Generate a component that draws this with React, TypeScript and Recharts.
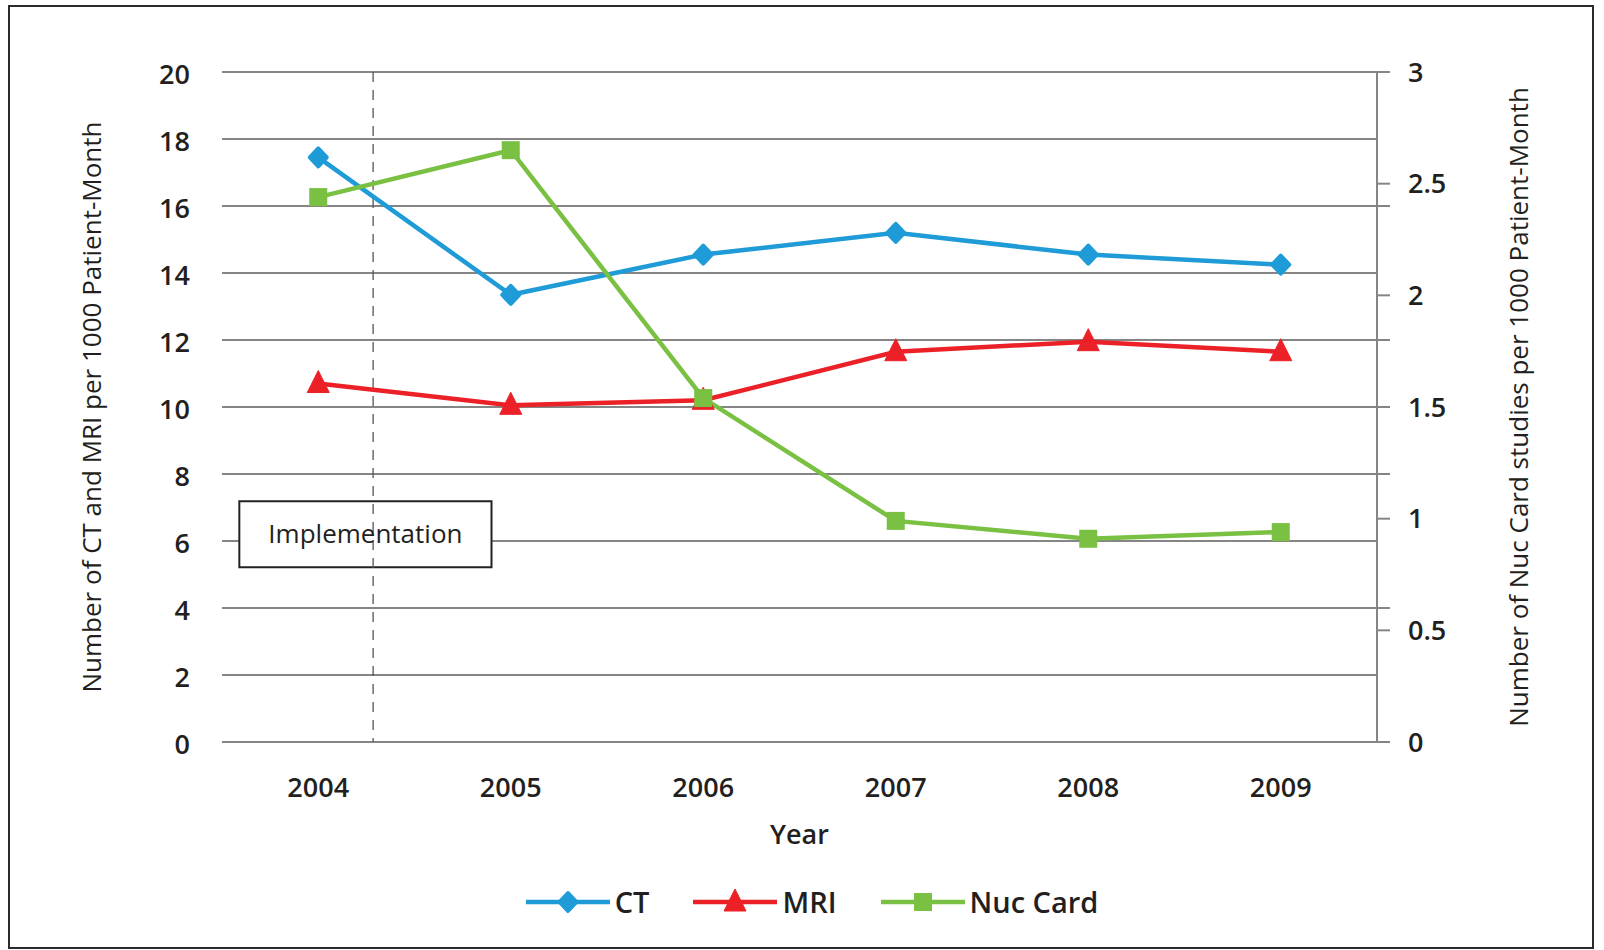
import React from 'react';
import {
  LineChart,
  Line,
  XAxis,
  YAxis,
  CartesianGrid,
  ReferenceArea,
  Legend,
} from 'recharts';

// ---------- data ----------
const years = ['2004', '2005', '2006', '2007', '2008', '2009'];
const ctValues = [17.45, 13.35, 14.55, 15.2, 14.55, 14.25];
const mriValues = [10.7, 10.05, 10.2, 11.65, 11.95, 11.65];
const nucCardValues = [2.44, 2.65, 1.54, 0.99, 0.91, 0.94];

const leftTicks = [0, 2, 4, 6, 8, 10, 12, 14, 16, 18, 20];
const rightTicks = [0, 0.5, 0.6, 1, 1.2, 1.5, 1.8, 2, 2.4, 2.5, 3];
const yearIndexTicks = [0, 1, 2, 3, 4, 5];

const seriesNames = { ct: 'CT', mri: 'MRI', nuc: 'Nuc Card' };
const implementationAt = 0.285; // between 2004 (0) and 2005 (1)
const implementationBoxX = [-0.41, 0.9];
const implementationBoxY = [5.22, 7.19];

const data = years.map((year, i) => ({
  idx: i,
  year,
  ct: ctValues[i],
  mri: mriValues[i],
  nuc: nucCardValues[i],
}));

// ---------- styles ----------
const FONT = '"Open Sans", "Noto Sans", sans-serif';
const TEXT = '#231f20';
const GRID = '#858585';
const COLORS = { ct: '#1f9bd7', mri: '#ec2027', nuc: '#79c043' };

const Diamond = ({ cx, cy, color }: any) => (
  <polygon
    points={`${cx},${cy - 9} ${cx + 8.5},${cy} ${cx},${cy + 9} ${cx - 8.5},${cy}`}
    fill={color}
    stroke={color}
    strokeWidth={4}
    strokeLinejoin="round"
  />
);
const Triangle = ({ cx, cy, color }: any) => (
  <polygon
    points={`${cx},${cy - 13} ${cx + 11},${cy + 9} ${cx - 11},${cy + 9}`}
    fill={color}
    stroke={color}
    strokeWidth={1}
  />
);
const Square = ({ cx, cy, color }: any) => (
  <rect x={cx - 9} y={cy - 9} width={18} height={18} fill={color} />
);

const markerFor: Record<string, any> = { ct: Diamond, mri: Triangle, nuc: Square };

const makeDot = (key: string) => (props: any) => {
  const M = markerFor[key];
  if (props.cx == null || props.cy == null) return <g key={`${key}-${props.index}`} />;
  return <M key={`${key}-${props.index}`} cx={props.cx} cy={props.cy} color={COLORS[key as keyof typeof COLORS]} />;
};

// dashed marker drawn from the area that the library computes for it
const DashedMarker = (props: any) => {
  const { x, y, height } = props;
  if (x == null || y == null) return <g />;
  return (
    <line
      x1={x}
      y1={y}
      x2={x}
      y2={y + height}
      stroke="#555"
      strokeWidth={1.3}
      strokeDasharray="10 8"
    />
  );
};

const renderLegend = (props: any) => {
  const { payload = [] } = props;
  return (
    <div
      style={{
        display: 'flex',
        justifyContent: 'center',
        alignItems: 'center',
        paddingLeft: 20,
        fontFamily: FONT,
        fontSize: 29,
        fontWeight: 600,
        color: TEXT,
        lineHeight: '38px',
      }}
    >
      {payload.map((entry: any, i: number) => {
        const key = entry.dataKey as string;
        const M = markerFor[key];
        return (
          <div
            key={key}
            style={{ display: 'flex', alignItems: 'center', marginRight: i < payload.length - 1 ? 44 : 0 }}
          >
            <svg width={84} height={30}>
              <line x1={0} y1={15} x2={84} y2={15} stroke={entry.color} strokeWidth={4.5} />
              <M cx={42} cy={15} color={entry.color} />
            </svg>
            <span style={{ marginLeft: 5 }}>{entry.value}</span>
          </div>
        );
      })}
    </div>
  );
};

export default function App() {
  return (
    <div style={{ position: 'relative', width: 1604, height: 950, background: '#fff' }}>
      <style>{'body{margin:0;background:#fff;}'}</style>
      <div
        style={{
          position: 'absolute',
          left: 8,
          top: 5,
          width: 1586,
          height: 944,
          border: '2.5px solid #2b2b2b',
          boxSizing: 'border-box',
          pointerEvents: 'none',
        }}
      />
      <LineChart
        width={1604}
        height={950}
        data={data}
        margin={{ top: 72, right: 0, bottom: 98, left: 0 }}
        style={{ position: 'absolute', left: 0, top: 0 }}
      >
        <CartesianGrid yAxisId="left" vertical={false} stroke={GRID} strokeWidth={2} />
        <XAxis
          dataKey="idx"
          type="number"
          domain={[-0.5, 5.5]}
          allowDataOverflow
          ticks={yearIndexTicks}
          tickFormatter={(v: number) => years[Math.round(v)] ?? ''}
          interval={0}
          height={110}
          axisLine={false}
          tickLine={false}
          tickSize={0}
          tickMargin={36}
          tick={{ fontSize: 27, fill: TEXT, fontFamily: FONT, fontWeight: 600 }}
          label={{
            value: 'Year',
            position: 'insideTop',
            offset: 83,
            style: { fontSize: 27, fill: TEXT, fontFamily: FONT, fontWeight: 600 },
          }}
        />
        <YAxis
          yAxisId="left"
          orientation="left"
          domain={[0, 20]}
          ticks={leftTicks}
          interval={0}
          width={222}
          axisLine={false}
          tickLine={false}
          tickSize={0}
          tickMargin={32}
          tick={{ fontSize: 27, fill: TEXT, fontFamily: FONT, fontWeight: 600, dy: 2 }}
          label={{
            value: 'Number of CT and MRI per 1000 Patient-Month',
            angle: -90,
            position: 'insideLeft',
            offset: 92,
            style: { textAnchor: 'middle', fontSize: 26, fill: TEXT, fontFamily: FONT, fontWeight: 500 },
          }}
        />
        <YAxis
          yAxisId="right"
          orientation="right"
          domain={[0, 3]}
          ticks={rightTicks}
          interval={0}
          width={227}
          axisLine={{ stroke: GRID, strokeWidth: 2 }}
          tickLine={{ stroke: GRID, strokeWidth: 2 }}
          tickSize={13}
          tickMargin={18}
          tickFormatter={(v: number) => (Number.isInteger(Math.round(v * 1000) / 500) ? String(v) : '')}
          tick={{ fontSize: 27, fill: TEXT, fontFamily: FONT, fontWeight: 600 }}
          label={{
            value: 'Number of Nuc Card studies per 1000 Patient-Month',
            angle: -90,
            position: 'insideRight',
            offset: 85,
            style: { textAnchor: 'middle', fontSize: 26, fill: TEXT, fontFamily: FONT, fontWeight: 500 },
          }}
        />
        <ReferenceArea
          yAxisId="left"
          x1={implementationBoxX[0]}
          x2={implementationBoxX[1]}
          y1={implementationBoxY[0]}
          y2={implementationBoxY[1]}
          ifOverflow="visible"
          fill="#ffffff"
          fillOpacity={1}
          stroke="#222"
          strokeWidth={2}
          label={{
            value: 'Implementation',
            position: 'center',
            style: { fontSize: 26, fill: TEXT, fontFamily: FONT, fontWeight: 400 },
          }}
        />
        <ReferenceArea
          yAxisId="left"
          x1={implementationAt}
          x2={implementationAt + 0.0001}
          y1={leftTicks[0]}
          y2={leftTicks[leftTicks.length - 1]}
          ifOverflow="visible"
          shape={DashedMarker}
        />
        <Line
          yAxisId="left"
          dataKey="ct"
          name={seriesNames.ct}
          stroke={COLORS.ct}
          strokeWidth={4.5}
          dot={makeDot('ct')}
          activeDot={false}
          isAnimationActive={false}
        />
        <Line
          yAxisId="left"
          dataKey="mri"
          name={seriesNames.mri}
          stroke={COLORS.mri}
          strokeWidth={4.5}
          dot={makeDot('mri')}
          activeDot={false}
          isAnimationActive={false}
        />
        <Line
          yAxisId="right"
          dataKey="nuc"
          name={seriesNames.nuc}
          stroke={COLORS.nuc}
          strokeWidth={4.5}
          dot={makeDot('nuc')}
          activeDot={false}
          isAnimationActive={false}
        />
        <Legend
          verticalAlign="middle"
          layout="horizontal"
          content={renderLegend}
          wrapperStyle={{ top: 883, left: 0, width: 1604 }}
        />
      </LineChart>
    </div>
  );
}
